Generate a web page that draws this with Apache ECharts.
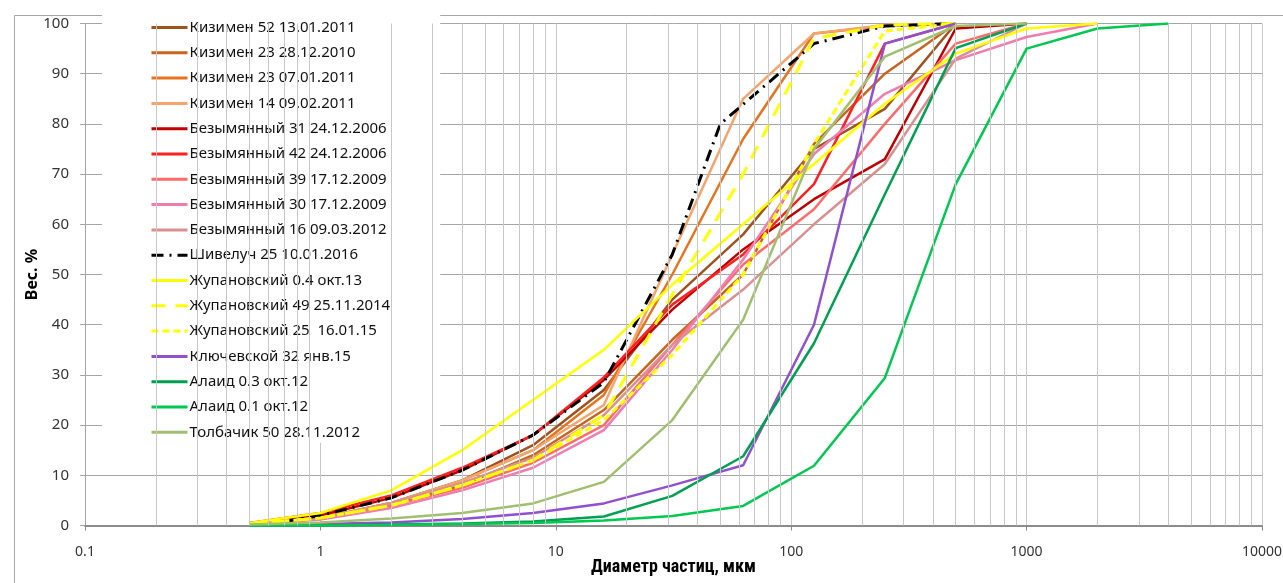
<!DOCTYPE html>
<html><head><meta charset="utf-8">
<script src="https://cdn.jsdelivr.net/npm/echarts@6/dist/echarts.min.js"></script>
<style>html,body{margin:0;padding:0;background:#fff}#c{width:1283px;height:583px}</style>
</head><body><div id="c"></div>
<script>
// particle size classes, µm
const sizes = [0.5, 1, 2, 4, 8, 16, 31.25, 62.5, 125, 250, 500, 1000, 2000, 4000];
// cumulative weight, %
const kizimen52_130111 = [0.3, 1.5, 4.5, 9, 16, 27, 45, 58, 75, 83, 100];
const kizimen23_281210 = [0.3, 1.3, 4, 8, 14, 23, 37, 50, 76, 90, 100];
const kizimen23_070111 = [0.3, 1.5, 4.5, 9, 15, 26, 50, 77, 98, 99.5, 100];
const kizimen14_090211 = [0.3, 1.5, 4.5, 9, 15, 24, 54, 85, 98, 99.7, 100];
const bez31_241206 = [0.5, 2, 5.5, 11, 18, 29, 43, 55, 65, 73, 99, 100];
const bez42_241206 = [0.5, 2.5, 6, 11.5, 18, 29.5, 44, 54, 68, 96, 100];
const bez39_171209 = [0.3, 1.5, 4, 7.5, 12.5, 20, 36, 52, 63, 80, 96, 100];
const bez30_171209 = [0.3, 1.2, 3.5, 7, 11.5, 19, 35, 53, 74, 86, 92.7, 97.3, 100];
const bez16_090312 = [0.3, 1.5, 4.5, 8.5, 13.5, 22, 36, 47, 60, 72, 93, 100];
const shivSizes = [0.7, 1, 2, 4, 8, 16, 31.25, 50, 125, 250, 500];
const shiv25_100116 = [0.8, 2, 5.5, 11, 18, 28.5, 54, 80, 96, 99.5, 100];
const zhup04_okt13 = [0.5, 2.5, 7, 15, 25, 35, 48, 60, 72, 84, 94, 99, 100];
const zhup49_251114 = [0.3, 1.5, 4, 8, 13, 22, 46, 70, 97, 99.7, 100];
const zhup25_160115 = [0.3, 1.5, 4, 8, 13, 21, 34, 50, 76, 98.5, 100];
const kluch32_jan15 = [0.1, 0.3, 0.6, 1.3, 2.5, 4.4, 8, 12, 40, 96, 100];
const alaid03_okt12 = [0, 0, 0.2, 0.4, 0.8, 1.8, 5.9, 13.8, 36.3, 66, 95.1, 100];
const alaid01_okt12 = [0, 0, 0.1, 0.3, 0.5, 1, 1.9, 3.9, 11.9, 29.4, 68, 95, 99, 100];
const tolb50_281112 = [0.2, 0.6, 1.4, 2.5, 4.4, 8.7, 21, 41, 75, 93.4, 99.5, 100];

const minorGridX = [0.2,0.3,0.4,0.5,0.6,0.7,0.8,0.9, 2,3,4,5,6,7,8,9, 20,30,40,50,60,70,80,90,
  200,300,400,500,600,700,800,900, 2000,3000,4000,5000,6000,7000,8000,9000];

const FONT = '"Noto Sans", "Open Sans", sans-serif';

function mk(name, xs, ys, color, dash, width) {
  const data = [];
  for (let i = 0; i < ys.length; i++) data.push([xs[i], ys[i]]);
  return {
    name: name, type: 'line', data: data, symbol: 'none', showSymbol: false,
    lineStyle: { color: color, width: width || 2.5, type: dash || 'solid' },
    itemStyle: { color: color }, z: 3, animation: false, emphasis: { disabled: true }
  };
}

const series = [
  mk('Кизимен 52 13.01.2011', sizes, kizimen52_130111, '#a0521e'),
  mk('Кизимен 23 28.12.2010', sizes, kizimen23_281210, '#c8641e'),
  mk('Кизимен 23 07.01.2011', sizes, kizimen23_070111, '#e8731e'),
  mk('Кизимен 14 09.02.2011', sizes, kizimen14_090211, '#f5a46c'),
  mk('Безымянный 31 24.12.2006', sizes, bez31_241206, '#c00000'),
  mk('Безымянный 42 24.12.2006', sizes, bez42_241206, '#ff2020'),
  mk('Безымянный 39 17.12.2009', sizes, bez39_171209, '#ff6b6b'),
  mk('Безымянный 30 17.12.2009', sizes, bez30_171209, '#f07cb0'),
  mk('Безымянный 16 09.03.2012', sizes, bez16_090312, '#d89090'),
  mk('Шивелуч 25 10.01.2016', shivSizes, shiv25_100116, '#000000', [12, 6, 2, 6], 3),
  mk('Жупановский 0.4 окт.13', sizes, zhup04_okt13, '#ffff00'),
  mk('Жупановский 49 25.11.2014', sizes, zhup49_251114, '#ffff00', [14, 10], 3),
  mk('Жупановский 25  16.01.15', sizes, zhup25_160115, '#ffff00', [7, 4], 3),
  mk('Ключевской 32 янв.15', sizes, kluch32_jan15, '#9050d0'),
  mk('Алаид 0.3 окт.12', sizes, alaid03_okt12, '#00a050'),
  mk('Алаид 0.1 окт.12', sizes, alaid01_okt12, '#00c850'),
  mk('Толбачик 50 28.11.2012', sizes, tolb50_281112, '#a0c070')
];
const legendNames = series.map(s => s.name);

series.unshift({
  name: 'grid', type: 'line', data: [], z: 1, silent: true, animation: false,
  markLine: {
    silent: true, symbol: ['none', 'none'], animation: false,
    label: { show: false },
    lineStyle: { color: '#c8c8c8', width: 1, type: 'solid' },
    emphasis: { disabled: true },
    data: minorGridX.map(v => ({ xAxis: v }))
  }
});

const chart = echarts.init(document.getElementById('c'), null, { renderer: 'canvas' });
chart.setOption({
  animation: false,
  backgroundColor: '#fff',
  grid: { left: 85, right: 21, top: 23.5, bottom: 57.5, containLabel: false, outerBoundsMode: 'none' },
  xAxis: {
    type: 'log', logBase: 10, min: 0.1, max: 10000,
    name: 'Диаметр частиц, мкм', nameLocation: 'middle', nameGap: 33, nameMoveOverlap: false,
    nameTextStyle: { fontFamily: '"Liberation Sans Narrow", "Roboto Condensed", ' + FONT, fontWeight: 'bold', fontSize: 18, color: '#000' },
    axisLine: { show: true, lineStyle: { color: '#8c8c8c', width: 2 } },
    axisTick: { show: true, length: 5, lineStyle: { color: '#8c8c8c' } },
    axisLabel: { fontFamily: FONT, fontSize: 14, color: '#333', margin: 20,
      formatter: function (v) { return String(+v.toPrecision(6)); } },
    splitLine: { show: true, lineStyle: { color: '#c8c8c8', width: 1 } },
    minorTick: { show: false }, minorSplitLine: { show: false }
  },
  yAxis: {
    type: 'value', min: 0, max: 100, interval: 10,
    name: 'Вес. %', nameLocation: 'middle', nameGap: 45, nameRotate: 90, nameMoveOverlap: false,
    nameTextStyle: { fontFamily: FONT, fontWeight: 'bold', fontSize: 16, color: '#000' },
    axisLine: { show: true, lineStyle: { color: '#a6a6a6', width: 1 } },
    axisTick: { show: true, length: 5, lineStyle: { color: '#a6a6a6' } },
    axisLabel: { fontFamily: FONT, fontSize: 15, color: '#333', margin: 16 },
    splitLine: { show: true, lineStyle: { color: '#a6a6a6', width: 1 } }
  },
  legend: {
    data: legendNames, orient: 'vertical', left: 102, top: 14,
    padding: [6, 50, 3, 48], backgroundColor: '#fff',
    itemWidth: 36, itemHeight: 14, itemGap: 10.3,
    itemStyle: { color: 'rgba(0,0,0,0)', borderColor: 'rgba(0,0,0,0)', borderWidth: 0, opacity: 0 },
    lineStyle: { width: 3 },
    textStyle: { fontFamily: FONT, fontSize: 15, color: '#111', padding: [0, 0, 0, -3] },
    selectedMode: false
  },
  graphic: [{
    type: 'rect', left: 12, top: 13, silent: true, z: 0,
    shape: { width: 1300, height: 600 },
    style: { fill: 'none', stroke: '#a6a6a6', lineWidth: 1 }
  }],
  series: series
});
</script></body></html>
